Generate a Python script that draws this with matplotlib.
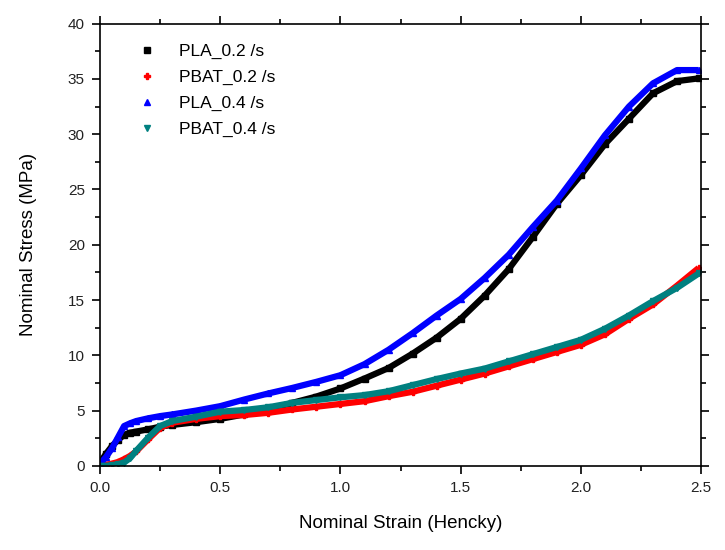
import numpy as np
import matplotlib
matplotlib.use("Agg")
import matplotlib.pyplot as plt
from matplotlib.ticker import MultipleLocator

plt.rcParams['font.family'] = ['Liberation Sans', 'DejaVu Sans']

# strain (Hencky) grid
strain = [0, 0.025, 0.05, 0.075, 0.1, 0.125, 0.15, 0.2, 0.25, 0.3, 0.4, 0.5,
          0.6, 0.7, 0.8, 0.9, 1.0, 1.1, 1.2, 1.3, 1.4, 1.5, 1.6, 1.7, 1.8,
          1.9, 2.0, 2.1, 2.2, 2.3, 2.4, 2.49]

# nominal stress (MPa)
pla_02 = [0.3, 1.1, 1.8, 2.35, 2.8, 3.0, 3.1, 3.3, 3.55, 3.7, 3.95, 4.25,
          4.65, 5.1, 5.7, 6.27, 7.0, 7.9, 8.85, 10.15, 11.6, 13.3, 15.4, 17.8,
          20.7, 23.7, 26.3, 29.1, 31.4, 33.7, 34.8, 35.05]
pbat_02 = [0.0, 0.1, 0.2, 0.35, 0.6, 0.9, 1.3, 2.4, 3.45, 3.9, 4.25, 4.5,
           4.6, 4.8, 5.1, 5.35, 5.6, 5.85, 6.3, 6.7, 7.25, 7.8, 8.35, 9.0,
           9.65, 10.3, 10.95, 11.9, 13.3, 14.6, 16.3, 17.9]
pla_04 = [0.2, 0.8, 1.6, 2.6, 3.6, 3.85, 4.05, 4.3, 4.5, 4.65, 5.0, 5.4,
          6.0, 6.55, 7.05, 7.6, 8.2, 9.2, 10.5, 12.0, 13.6, 15.1, 17.0, 19.1,
          21.6, 24.0, 26.9, 29.9, 32.5, 34.6, 35.8, 35.8]
pbat_04 = [0.0, 0.0, 0.05, 0.15, 0.3, 0.7, 1.35, 2.55, 3.6, 4.05, 4.45, 4.9,
           5.05, 5.3, 5.7, 5.95, 6.2, 6.4, 6.75, 7.3, 7.85, 8.35, 8.8, 9.45,
           10.1, 10.75, 11.4, 12.4, 13.6, 14.9, 16.1, 17.4]

series = [
    ("PLA_0.2 /s", pla_02, "#000000", "s"),
    ("PBAT_0.2 /s", pbat_02, "#ff0000", "P"),
    ("PLA_0.4 /s", pla_04, "#0000ff", "^"),
    ("PBAT_0.4 /s", pbat_04, "#008080", "v"),
]

fig = plt.figure(figsize=(7.25, 5.5), dpi=100)
ax = fig.add_axes([0.138, 0.153, 0.829, 0.804])

for name, y, c, m in series:
    ax.plot(strain, y, color=c, lw=4.5, solid_capstyle='butt')
    ax.plot(strain, y, ls='none', marker=m, color=c, ms=4.5, label=name)

ax.set_xlim(0, 2.5)
ax.set_ylim(0, 40)
ax.xaxis.set_major_locator(MultipleLocator(0.5))
ax.xaxis.set_minor_locator(MultipleLocator(0.25))
ax.yaxis.set_major_locator(MultipleLocator(5))
ax.yaxis.set_minor_locator(MultipleLocator(2.5))
ax.xaxis.set_major_formatter(plt.FormatStrFormatter('%.1f'))
ax.tick_params(which='both', direction='out', top=True, right=True,
               labelsize=11, width=1.2, pad=5, labelcolor='#222222')
ax.tick_params(which='major', length=6)
ax.tick_params(which='minor', length=3.5)
for s in ax.spines.values():
    s.set_linewidth(1.2)

ax.set_xlabel("Nominal Strain (Hencky)", fontsize=13.5, labelpad=14)
ax.set_ylabel("Nominal Stress (MPa)", fontsize=13.5, labelpad=22)

leg = ax.legend(loc='upper left', bbox_to_anchor=(0.03, 0.99), frameon=False,
                fontsize=12.5, handletextpad=1.1, labelspacing=0.62,
                markerscale=1.0, handlelength=1.5)

fig.savefig("out.png", dpi=100)
